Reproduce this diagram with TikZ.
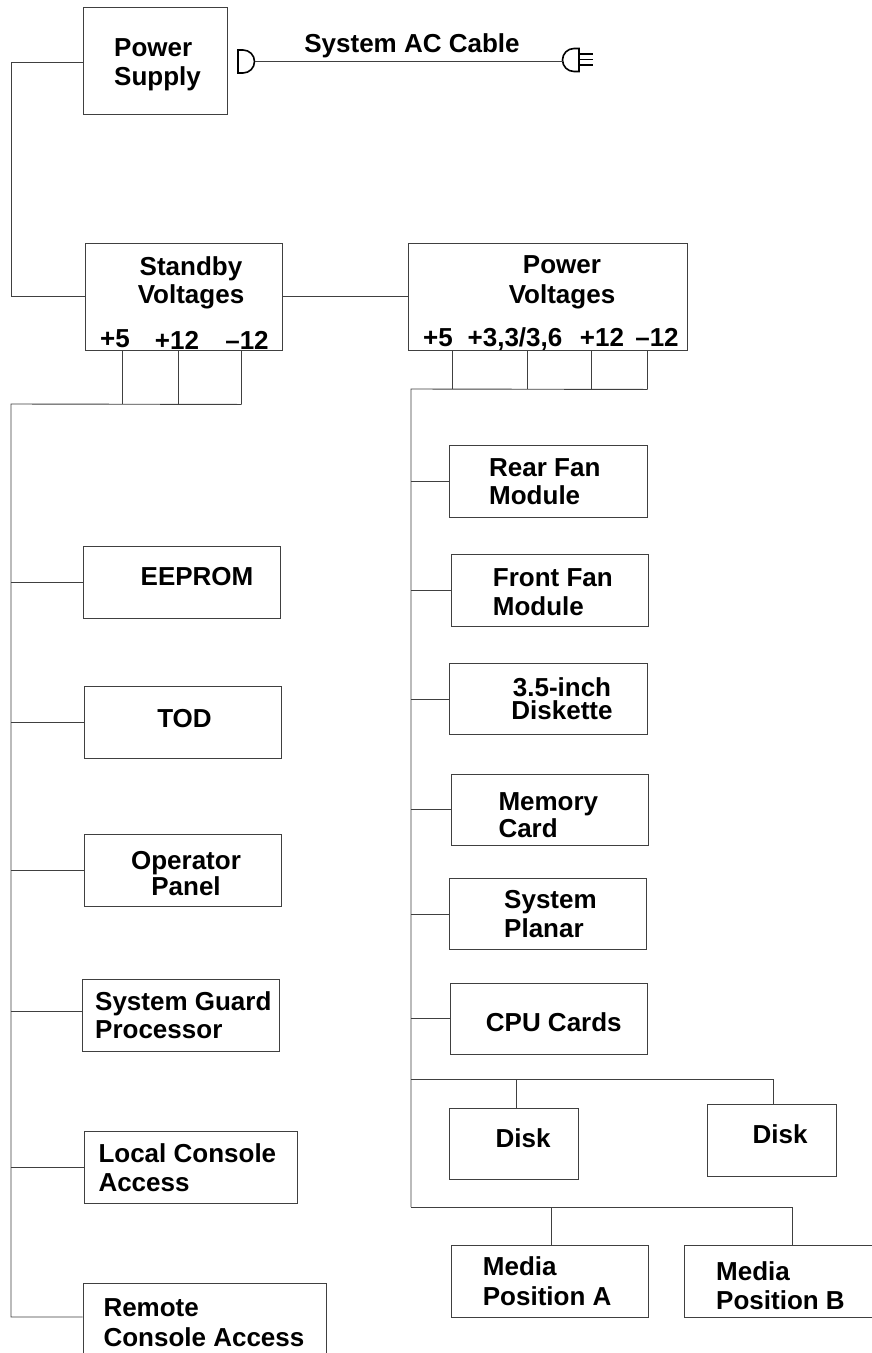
\documentclass[tikz,border=0pt]{standalone}
\usepackage{fontspec}
\setmainfont{Liberation Sans}
\usetikzlibrary{calc}

\begin{document}
\begin{tikzpicture}[x=1pt, y=-1pt,
  box/.style={draw=black!75, line width=0.9pt, inner sep=0pt},
  lbl/.style={font=\fontsize{26}{29}\selectfont\bfseries, inner sep=0pt},
  wire/.style={draw=black!75, line width=0.9pt},
  plug/.style={draw=black, line width=1.6pt}]
  \fill[white] (0,0) rectangle (872,1353);
  \useasboundingbox (0,0) rectangle (872,1353);

  % Power supply and AC cable
  \node[box, minimum width=144pt, minimum height=107pt] (ps) at (155,60.5) {};
  \node[lbl, anchor=north west, align=left] (ps-t) at (114,38.4) {Power\\Supply};
  \draw[plug] (238,50) -- (243,50) arc[start angle=-90, end angle=90, radius=11.5] -- (238,73) -- cycle;
  \draw[plug] (579,48.5) -- (574,48.5) arc[start angle=-90, end angle=-270, radius=11.5] -- (579,71.5) -- cycle;
  \foreach \y in {54,59.5,65}
    \draw[plug, line width=1.3pt] (579,\y) -- (593,\y);
  \coordinate (acL) at (254.5,61);
  \coordinate (acR) at (562.5,61);
  \draw[wire] (acL) -- (acR);
  \node[lbl, anchor=base] (ac-t) at (412,52) {System AC Cable};

  % Standby voltages
  \node[box, minimum width=197pt, minimum height=107pt] (sb) at (183.5,296.5) {};
  \node[lbl, anchor=north, align=center, font=\fontsize{26}{28}\selectfont\bfseries] (sb-t) at (191,256.4) {Standby\\Voltages};
  \node[lbl, anchor=base] (sb-a) at (115,347) {+5};
  \node[lbl, anchor=base] (sb-b) at (177,349.5) {+12};
  \node[lbl, anchor=base] (sb-c) at (247,349) {--12};

  % Power voltages
  \node[box, minimum width=279pt, minimum height=107pt] (pv) at (547.5,296.5) {};
  \node[lbl, anchor=north, align=center, font=\fontsize{26}{30}\selectfont\bfseries] (pv-t) at (562,255.4) {Power\\Voltages};
  \node[lbl, anchor=base] (pv-a) at (438,346) {+5};
  \node[lbl, anchor=base] (pv-b) at (515,346) {+3,3/3,6};
  \node[lbl, anchor=base] (pv-c) at (602,346) {+12};
  \node[lbl, anchor=base] (pv-d) at (657,346) {--12};

  % Standby loads
  \node[box, minimum width=197pt, minimum height=72pt] (eeprom) at (181.5,582) {};
  \node[lbl, anchor=base] (eeprom-t) at (197,585.7) {EEPROM};
  \node[box, minimum width=197pt, minimum height=72pt] (tod) at (183.2,722) {};
  \node[lbl, anchor=base] (tod-t) at (184.5,727.3) {TOD};
  \node[box, minimum width=197pt, minimum height=72pt] (opp) at (183.2,870) {};
  \node[lbl, anchor=north, align=center, font=\fontsize{26}{26}\selectfont\bfseries] (opp-t) at (186,851.4) {Operator\\Panel};
  \node[box, minimum width=197pt, minimum height=72pt] (sgp) at (181.3,1015.8) {};
  \node[lbl, anchor=north west, align=left, font=\fontsize{26}{28}\selectfont\bfseries] (sgp-t) at (95,991.4) {System Guard\\Processor};
  \node[box, minimum width=213pt, minimum height=72pt] (lca) at (191.3,1167.5) {};
  \node[lbl, anchor=north west, align=left] (lca-t) at (98.3,1143.7) {Local Console\\Access};
  \node[box, minimum width=243pt, minimum height=80pt] (rca) at (204.5,1323) {};
  \node[lbl, anchor=north west, align=left, font=\fontsize{26}{30}\selectfont\bfseries] (rca-t) at (103.3,1298) {Remote\\Console Access};

  % Power loads
  \node[box, minimum width=198pt, minimum height=72pt] (rear) at (548,481.8) {};
  \node[lbl, anchor=north west, align=left, font=\fontsize{26}{28.4}\selectfont\bfseries] (rear-t) at (489,458.4) {Rear Fan\\Module};
  \node[box, minimum width=197pt, minimum height=72pt] (front) at (549.5,590.5) {};
  \node[lbl, anchor=north west, align=left] (front-t) at (492.7,568.2) {Front Fan\\Module};
  \node[box, minimum width=198pt, minimum height=71pt] (dsk) at (548,699) {};
  \node[lbl, anchor=north, align=center, font=\fontsize{26}{23.5}\selectfont\bfseries] (dsk-t) at (562,677.4) {3.5-inch\\Diskette};
  \node[box, minimum width=197pt, minimum height=71pt] (mem) at (550.3,809.5) {};
  \node[lbl, anchor=north west, align=left, font=\fontsize{26}{27.6}\selectfont\bfseries] (mem-t) at (498.3,792) {Memory\\Card};
  \node[box, minimum width=197pt, minimum height=71pt] (planar) at (548.3,914.2) {};
  \node[lbl, anchor=north west, align=left] (planar-t) at (504,890.4) {System\\Planar};
  \node[box, minimum width=197pt, minimum height=71pt] (cpu) at (548.5,1018.5) {};
  \node[lbl, anchor=base] (cpu-t) at (553.8,1031.2) {CPU Cards};

  % Disks and media
  \node[box, minimum width=129pt, minimum height=71pt] (d1) at (513.5,1143.5) {};
  \node[lbl, anchor=base] (d1-t) at (523,1147) {Disk};
  \node[box, minimum width=129pt, minimum height=72pt] (d2) at (771.5,1140) {};
  \node[lbl, anchor=base] (d2-t) at (780,1143.3) {Disk};
  \node[box, minimum width=197pt, minimum height=72pt] (ma) at (549.5,1281) {};
  \node[lbl, anchor=north west, align=left, font=\fontsize{26}{30}\selectfont\bfseries] (ma-t) at (482.7,1256.4) {Media\\Position A};
  \node[box, minimum width=216pt, minimum height=72pt] (mb) at (792,1281) {};
  \node[lbl, anchor=north west, align=left] (mb-t) at (716,1261.4) {Media\\Position B};

  % Supply to the two voltage groups
  \draw[wire] ([yshift=-2pt]ps.west) -- ++(-71,0) |- (sb.west);
  \draw[wire] (sb.east) -- (pv.west);

  % Standby bus
  \coordinate (sbus) at (11,404);
  \foreach \d in {38,94,157}
    \draw[wire] ($(sb.south west)+(\d,0)$) -- ++(0,54);
  \draw[wire] ($(sb.south west)+(157,54)$) -- (sbus) |- ([yshift=6pt]rca.west);
  \coordinate (sgp-in) at ([yshift=4pt]sgp.west);
  \draw[wire] (sbus |- sgp-in) -- (sgp-in);
  \foreach \n in {eeprom,tod,opp,lca}
    \draw[wire] (sbus |- \n.west) -- (\n.west);

  % Power bus
  \coordinate (pbus) at (411,389);
  \coordinate (dbus) at (411,1079);
  \coordinate (mbus) at (411,1207);
  \foreach \d in {45,120,184,240}
    \draw[wire] ($(pv.south west)+(\d,0)$) -- ++(0,39);
  \draw[wire] ($(pv.south west)+(240,39)$) -- (pbus) -- (mbus);
  \foreach \n in {rear,front,dsk,mem,planar,cpu}
    \draw[wire] (pbus |- \n.west) -- (\n.west);
  \draw[wire] (dbus) -| ([xshift=1.5pt]d2.north);
  \draw[wire] ([xshift=3pt]d1.north) -- ([xshift=3pt]d1.north |- dbus);
  \draw[wire] (mbus) -| (mb.north);
  \draw[wire] ([xshift=1.5pt]ma.north) -- ([xshift=1.5pt]ma.north |- mbus);
\end{tikzpicture}
\end{document}
